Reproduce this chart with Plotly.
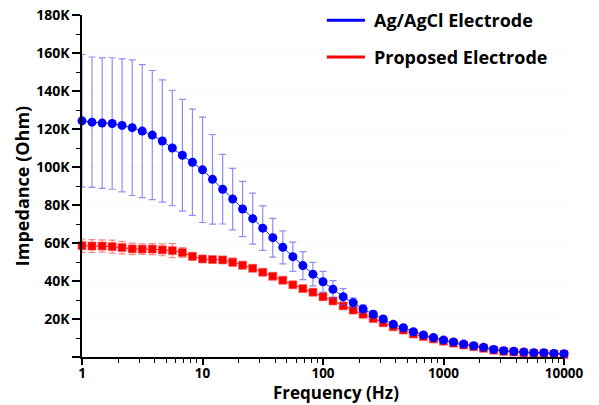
import plotly.graph_objects as go

freq_hz = [1, 1.21, 1.47, 1.78, 2.15, 2.61, 3.16, 3.83, 4.64, 5.62, 6.81, 8.25,
           10, 12.1, 14.7, 17.8, 21.5, 26.1, 31.6, 38.3, 46.4, 56.2, 68.1, 82.5,
           100, 121, 147, 178, 215, 261, 316, 383, 464, 562, 681, 825,
           1000, 1210, 1470, 1780, 2150, 2610, 3160, 3830, 4640, 5620, 6810, 8250, 10000]

agcl_kohm = [124.3, 123.6, 123.1, 122.9, 121.9, 120.7, 118.9, 116.8, 113.7, 110.0,
             106.2, 102.5, 98.5, 93.5, 88.3, 83.1, 77.9, 72.8, 67.8, 62.8,
             57.7, 52.8, 48.1, 43.6, 39.6, 35.6, 31.7, 28.6, 25.3, 22.5,
             20.0, 17.2, 15.4, 13.3, 11.6, 10.2, 8.9, 7.9, 6.8, 5.9,
             5.1, 4.0, 3.3, 3.0, 2.6, 2.3, 2.3, 1.9, 1.7]
agcl_err_kohm = [34.9, 34.3, 34.3, 34.6, 35.0, 35.7, 35.0, 34.0, 32.2, 30.4,
                 29.4, 28.0, 27.7, 23.6, 18.3, 16.2, 14.5, 13.4, 11.7, 10.2,
                 8.7, 7.7, 7.4, 6.2, 5.5, 4.6, 4.3, 2.5, 2.1, 1.8,
                 1.5, 1.3, 1.2, 1.0, 0.9, 0.8, 0.7, 0.6, 0.5, 0.5,
                 0.4, 0.4, 0.3, 0.3, 0.3, 0.3, 0.2, 0.2, 0.2]

proposed_kohm = [58.6, 58.4, 58.4, 58.1, 57.6, 56.9, 56.8, 56.8, 56.4, 56.0,
                 55.0, 53.0, 51.6, 51.3, 51.1, 49.9, 48.3, 46.7, 44.6, 42.5,
                 40.4, 38.0, 36.0, 34.1, 31.7, 29.5, 26.9, 24.7, 22.5, 20.2,
                 18.0, 15.9, 14.2, 12.1, 10.7, 9.5, 8.3, 7.3, 6.3, 5.4,
                 4.6, 3.6, 3.0, 2.6, 2.2, 1.9, 1.8, 1.5, 1.3]
proposed_err_kohm = [3.5, 3.4, 3.2, 3.4, 3.3, 3.0, 2.8, 2.9, 3.1, 3.7,
                     2.6, 2.0, 1.5, 1.6, 1.8, 2.2, 1.8, 1.5, 1.2, 1.0,
                     0.9, 0.8, 0.7, 0.7, 0.6, 0.6, 0.5, 0.5, 0.5, 0.4,
                     0.4, 0.4, 0.3, 0.3, 0.3, 0.3, 0.3, 0.2, 0.2, 0.2,
                     0.2, 0.2, 0.2, 0.1, 0.1, 0.1, 0.1, 0.1, 0.1]

series_names = ["Ag/AgCl Electrode", "Proposed Electrode"]
series_colors = ["rgb(0,0,255)", "rgb(255,0,0)"]

x_tick_vals = [1, 10, 100, 1000, 10000]
x_tick_text = ["1", "10", "100", "1000", "10000"]
y_tick_vals = [0, 20000, 40000, 60000, 80000, 100000, 120000, 140000, 160000, 180000]
y_tick_text = ["", "20K", "40K", "60K", "80K", "100K", "120K", "140K", "160K", "180K"]
y_minor_vals = [10000, 30000, 50000, 70000, 90000, 110000, 130000, 150000, 170000]
x_minor_vals = [m * d for d in (1, 10, 100, 1000) for m in range(2, 10)]

FONT = "Open Sans"

fig = go.Figure()

# Proposed electrode (drawn first, underneath)
fig.add_trace(go.Scatter(
    x=freq_hz, y=[v * 1000 for v in proposed_kohm], name=series_names[1],
    mode="lines+markers",
    line=dict(color=series_colors[1], width=1),
    marker=dict(symbol="square", size=8, color=series_colors[1],
                line=dict(color="rgba(255,80,80,0.6)", width=1)),
    error_y=dict(type="data", array=[e * 1000 for e in proposed_err_kohm],
                 color="rgba(240,60,60,0.6)", thickness=1.2, width=3.5),
    showlegend=False, cliponaxis=False,
))

# Ag/AgCl electrode
fig.add_trace(go.Scatter(
    x=freq_hz, y=[v * 1000 for v in agcl_kohm], name=series_names[0],
    mode="lines+markers",
    line=dict(color="rgb(40,40,230)", width=1),
    marker=dict(symbol="circle", size=9, color=series_colors[0]),
    error_y=dict(type="data", array=[e * 1000 for e in agcl_err_kohm],
                 color="rgba(80,80,235,0.65)", thickness=1.2, width=3.5),
    showlegend=False, cliponaxis=False,
))

# Manual legend (line samples + labels) in paper coordinates
legend_rows_y = [0.985, 0.877]
shapes = []
annotations = []
for name, color, ly in zip(series_names, series_colors, legend_rows_y):
    shapes.append(dict(type="line", xref="paper", yref="paper",
                       x0=0.508, x1=0.587, y0=ly, y1=ly,
                       line=dict(color=color, width=3)))
    annotations.append(dict(text=name, xref="paper", yref="paper",
                            x=0.601, y=ly, xanchor="left", yanchor="middle",
                            showarrow=False,
                            font=dict(family=FONT, size=18, weight="bold", color="black")))

annotations.append(dict(
    text="Frequency (Hz)", xref="paper", yref="paper",
    x=0.527, y=-0.1415, xanchor="center", yanchor="bottom", showarrow=False,
    borderpad=0,
    font=dict(family=FONT, size=17, weight="bold", color="black"),
))

fig.update_layout(
    width=599, height=405,
    margin=dict(l=82, r=35, t=15, b=48),
    paper_bgcolor="white", plot_bgcolor="white",
    font=dict(family=FONT, color="black"),
    showlegend=False,
    xaxis=dict(
        type="log", range=[0, 4],
        showline=True, linecolor="black", linewidth=2,
        ticks="outside", ticklen=6, tickwidth=1.5, tickcolor="black",
        ticklabelstandoff=-3,
        tickvals=x_tick_vals, ticktext=x_tick_text,
        tickfont=dict(family=FONT, size=13.5, weight="bold", color="black"),
        minor=dict(tickvals=x_minor_vals, ticks="outside", ticklen=4,
                   tickwidth=1.2, tickcolor="black", showgrid=False),
        showgrid=False, zeroline=False,
        automargin=False,
    ),
    yaxis=dict(
        range=[0, 180000],
        showline=True, linecolor="black", linewidth=1.5,
        ticks="outside", ticklen=8, tickwidth=1.5, tickcolor="black",
        tickvals=y_tick_vals, ticktext=y_tick_text,
        tickfont=dict(family=FONT, size=14, weight="bold", color="black"),
        minor=dict(tickvals=y_minor_vals, ticks="outside", ticklen=4,
                   tickwidth=1.2, tickcolor="black", showgrid=False),
        showgrid=True, gridcolor="rgb(248,248,248)", gridwidth=1,
        zeroline=False,
        title=dict(text="Impedance (Ohm)", standoff=2,
                   font=dict(family=FONT, size=18, weight="bold", color="black")),
        automargin=False,
    ),
    shapes=shapes,
    annotations=annotations,
)

fig.write_html("out.html")
